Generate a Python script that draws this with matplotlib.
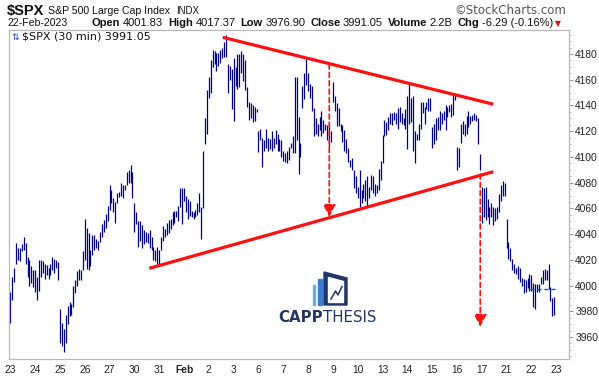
import numpy as np
import matplotlib.pyplot as plt
from matplotlib.patches import Rectangle, Polygon

plt.rcParams['font.family'] = ['Liberation Sans', 'DejaVu Sans']

# trading days on the x axis (last one is the empty slot after the last bar)
day_labels = ['23', '24', '25', '26', '27', '30', '31', 'Feb', '2', '3', '6', '7',
              '8', '9', '10', '13', '14', '15', '16', '17', '21', '22', '23']
bars_per_day = 13

# 30 min bars, high / low, 13 per day
bar_high = [
    3995, 4007, 4014, 4033, 4029, 4029, 4032, 4038, 4033, 4022, 4020, 4015, 4012,  # Jan 23
    4012, 4007, 4020, 4020, 4019, 4017, 4016, 4014, 4017, 4022, 4021, 4020, 4018,  # Jan 24
    3982, 3971, 3966, 3977, 3984, 3987, 3986, 4000, 4004, 4011, 4013, 4012, 4027,  # Jan 25
    4052, 4045, 4041, 4028, 4039, 4039, 4036, 4035, 4042, 4048, 4051, 4056, 4062,  # Jan 26
    4078, 4074, 4068, 4065, 4072, 4073, 4080, 4078, 4078, 4088, 4090, 4094, 4088,  # Jan 27
    4064, 4057, 4050, 4050, 4047, 4043, 4042, 4041, 4043, 4038, 4030, 4028, 4030,  # Jan 30
    4028, 4038, 4046, 4044, 4049, 4051, 4052, 4057, 4058, 4058, 4062, 4076, 4076,  # Jan 31
    4076, 4070, 4067, 4066, 4058, 4057, 4059, 4064, 4072, 4061, 4105, 4130, 4152,  # Feb 1
    4162, 4175, 4183, 4182, 4181, 4181, 4183, 4185, 4189, 4195, 4172, 4171, 4168,  # Feb 2
    4177, 4170, 4180, 4180, 4182, 4180, 4175, 4154, 4143, 4142, 4140, 4139, 4137,  # Feb 3
    4120, 4122, 4115, 4113, 4122, 4115, 4114, 4120, 4115, 4121, 4118, 4114, 4113,  # Feb 6
    4105, 4103, 4105, 4108, 4111, 4116, 4162, 4162, 4131, 4111, 4155, 4165, 4176,  # Feb 7
    4165, 4157, 4155, 4138, 4130, 4126, 4131, 4136, 4129, 4126, 4125, 4126, 4120,  # Feb 8
    4158, 4147, 4142, 4138, 4126, 4125, 4121, 4114, 4107, 4098, 4099, 4090, 4085,  # Feb 9
    4077, 4090, 4074, 4079, 4082, 4085, 4077, 4086, 4085, 4079, 4078, 4091, 4097,  # Feb 10
    4117, 4129, 4127, 4131, 4134, 4134, 4135, 4134, 4138, 4139, 4134, 4130, 4137,  # Feb 13
    4147, 4158, 4146, 4147, 4120, 4118, 4126, 4143, 4143, 4139, 4143, 4146, 4146,  # Feb 14
    4123, 4126, 4130, 4131, 4136, 4134, 4136, 4140, 4139, 4140, 4141, 4148, 4148,  # Feb 15
    4108, 4107, 4126, 4128, 4126, 4132, 4136, 4132, 4133, 4134, 4133, 4130, 4102,  # Feb 16
    4077, 4076, 4077, 4067, 4061, 4064, 4061, 4060, 4061, 4071, 4078, 4081, 4080,  # Feb 17
    4052, 4034, 4029, 4021, 4017, 4014, 4015, 4014, 4006, 4005, 4004, 4006, 4009,  # Feb 21
    4008, 4002, 4001, 4001, 4001, 4007, 4012, 4013, 4012, 4017, 3999, 3990, 3991,  # Feb 22
]
bar_low = [
    3971, 3989, 4003, 4017, 4020, 4019, 4027, 4028, 4017, 4007, 4000, 4002, 3999,  # Jan 23
    3995, 3989, 3996, 4007, 4010, 4005, 4008, 4005, 4008, 4012, 4010, 4014, 4004,  # Jan 24
    3955, 3953, 3948, 3955, 3970, 3976, 3977, 3983, 3994, 4000, 4004, 4004, 4012,  # Jan 25
    4020, 4013, 4012, 4015, 4024, 4028, 4029, 4028, 4034, 4038, 4042, 4045, 4050,  # Jan 26
    4059, 4064, 4057, 4049, 4064, 4069, 4070, 4068, 4074, 4078, 4080, 4080, 4068,  # Jan 27
    4042, 4048, 4030, 4035, 4029, 4032, 4034, 4033, 4029, 4028, 4020, 4019, 4017,  # Jan 30
    4017, 4028, 4035, 4038, 4039, 4041, 4044, 4047, 4049, 4053, 4050, 4061, 4048,  # Jan 31
    4066, 4057, 4052, 4054, 4053, 4052, 4053, 4055, 4057, 4036, 4060, 4110, 4118,  # Feb 1
    4146, 4150, 4170, 4172, 4167, 4171, 4173, 4177, 4178, 4178, 4150, 4160, 4137,  # Feb 2
    4128, 4155, 4153, 4154, 4165, 4159, 4152, 4139, 4129, 4130, 4127, 4128, 4135,  # Feb 3
    4104, 4113, 4092, 4105, 4107, 4105, 4106, 4105, 4107, 4110, 4105, 4105, 4100,  # Feb 6
    4097, 4096, 4095, 4098, 4107, 4103, 4103, 4113, 4087, 4100, 4138, 4145, 4156,  # Feb 7
    4151, 4146, 4136, 4116, 4118, 4116, 4121, 4116, 4119, 4121, 4113, 4108, 4112,  # Feb 8
    4143, 4136, 4124, 4124, 4120, 4112, 4105, 4103, 4096, 4092, 4090, 4076, 4072,  # Feb 9
    4068, 4061, 4064, 4068, 4066, 4061, 4068, 4074, 4072, 4070, 4072, 4074, 4082,  # Feb 10
    4095, 4116, 4117, 4121, 4126, 4125, 4129, 4126, 4122, 4127, 4126, 4125, 4122,  # Feb 13
    4106, 4126, 4127, 4105, 4095, 4113, 4113, 4122, 4134, 4126, 4137, 4136, 4136,  # Feb 14
    4107, 4110, 4113, 4121, 4121, 4126, 4129, 4121, 4131, 4135, 4131, 4133, 4144,  # Feb 15
    4090, 4092, 4111, 4118, 4116, 4118, 4123, 4126, 4128, 4129, 4128, 4110, 4090,  # Feb 16
    4049, 4053, 4051, 4053, 4048, 4053, 4047, 4050, 4052, 4057, 4066, 4070, 4070,  # Feb 17
    4029, 4021, 4019, 4012, 4010, 4009, 4005, 4003, 4000, 3994, 3995, 3998, 3996,  # Feb 21
    3996, 3983, 3982, 3995, 3995, 4001, 4001, 4004, 4004, 3997, 3988, 3976, 3977,  # Feb 22
]

prev_close = 3997.34
last_close = 3991.05

# hand drawn triangle (bar index, price)
upper_x, upper_y = [111.3, 253.0], [4193.0, 4141.0]
lower_x, lower_y = [72.8, 253.0], [4013.4, 4088.5]
arrow_x = [167.1, 246.2]
arrow_top = [4172.2, 4086.7]
arrow_tip = [4053.3, 3967.9]

W, H = 599, 377
fig = plt.figure(figsize=(W / 100, H / 100), dpi=100)
ax = fig.add_axes([9 / W, 18 / H, 560 / W, 329 / H])
rend = fig.canvas.get_renderer()


def px(x, y):
    return x / W, 1 - y / H


def chain(x, y, pieces, **kw):
    # put text pieces one after the other, gap in pixels after each
    for txt, weight, gap in pieces:
        t = fig.text(*px(x, y), txt, fontweight=weight, **kw)
        x = t.get_window_extent(rend).x1 + gap
    return x


x = np.arange(len(bar_high))
ax.vlines(x, bar_low, bar_high, colors='#000080', lw=0.9)

# previous close marker for the last session
last_day = len(day_labels) - 2
ax.hlines(prev_close, last_day * bars_per_day - 0.5, len(bar_high) - 0.5,
          colors='#2244dd', linestyles=(0, (3, 2)), lw=1.0)

ax.plot(upper_x, upper_y, color='#ff1010', lw=2.3, solid_capstyle='butt')
ax.plot(lower_x, lower_y, color='#ff1010', lw=2.3, solid_capstyle='butt')
for ax_x, top, tip in zip(arrow_x, arrow_top, arrow_tip):
    ax.annotate('', xy=(ax_x, tip), xytext=(ax_x, top),
                arrowprops=dict(arrowstyle='-|>,head_length=0.75,head_width=0.38',
                                color='#ff1010', lw=1.2, linestyle=(0, (3, 2)),
                                shrinkA=0, shrinkB=0))

ax.set_xlim(-0.7, 292.7)
ax.set_ylim(3942.9, 4198.7)

ax.set_xticks(np.arange(len(day_labels)) * bars_per_day)
ax.set_xticklabels(day_labels)
for lab in ax.get_xticklabels():
    if lab.get_text() == 'Feb':
        lab.set_fontweight('bold')
ax.tick_params(axis='x', length=0, pad=4, labelsize=7.4, labelcolor='#222222')

ax.yaxis.tick_right()
ax.set_yticks(np.arange(3960, 4181, 20))
ax.set_yticks(np.arange(3945, 4196, 5), minor=True)
ax.tick_params(axis='y', which='major', length=3, width=0.8, color='#999999',
               pad=1.5, labelsize=7.4, labelcolor='#222222')
ax.tick_params(axis='y', which='minor', length=1.5, width=0.6, color='#aaaaaa')
for s in ax.spines.values():
    s.set_color('#b8b8b8')
    s.set_linewidth(0.9)

# header
fig.text(*px(7, 15), '$SPX', fontsize=10.5, fontweight='bold', color='#111111')
fig.text(*px(48, 14), 'S&P 500 Large Cap Index', fontsize=7.6, color='#111111')
fig.text(*px(176, 14), 'INDX', fontsize=7, color='#111111')
fig.text(*px(566, 14), '\u00a9StockCharts.com', fontsize=8.5, color='#555555', ha='right',
         family='DejaVu Sans')

fig.text(*px(8, 26), '22-Feb-2023', fontsize=7.6, color='#111111')
line2 = [('Open', 'bold', 2.5), ('4001.83', 'normal', 5), ('High', 'bold', 2.5),
         ('4017.37', 'normal', 5), ('Low', 'bold', 2.5), ('3976.90', 'normal', 5),
         ('Close', 'bold', 2.5), ('3991.05', 'normal', 5), ('Volume', 'bold', 2.5),
         ('2.2B', 'normal', 5), ('Chg', 'bold', 2.5), ('-6.29 (-0.16%)', 'normal', 2)]
end = chain(92, 26, line2, fontsize=8.0, color='#111111')
fig.text(*px(end, 26), '\u25bc', fontsize=5.5, color='#cc1111', family='DejaVu Sans')

fig.text(*px(11, 39.5), '\u21c5', fontsize=6.5, color='#2244cc', family='DejaVu Sans')
fig.text(*px(22, 39.5), '$SPX (30 min) %.2f' % last_close, fontsize=8,
         color='#111111', family='DejaVu Sans')

# CAPP THESIS logo
navy = '#24356a'
fig.add_artist(Rectangle(px(312.7, 305), 2.8 / W, 20 / H, color='#6aaee0'))
fig.add_artist(Rectangle(px(317.7, 305), 4.3 / W, 26 / H, color='#3d7cc9'))
fig.add_artist(Polygon([px(324, 272), px(347, 278), px(347, 305), px(324, 305)], color=navy))
fig.add_artist(Polygon([px(328.5, 277.5), px(343.5, 281.5), px(343.5, 302.5), px(328.5, 302.5)],
                       color='white'))
fig.add_artist(plt.Line2D([px(331, 0)[0], px(335.5, 0)[0], px(338, 0)[0], px(342, 0)[0]],
                          [px(0, 299)[1], px(0, 291)[1], px(0, 295)[1], px(0, 286.5)[1]],
                          color=navy, lw=1.1))
chain(278, 322, [('CAPP', 'bold', 0), ('THESIS', 'normal', 0)],
      fontsize=10.8, color=navy, family='DejaVu Sans')

fig.savefig('out.png', dpi=100)
